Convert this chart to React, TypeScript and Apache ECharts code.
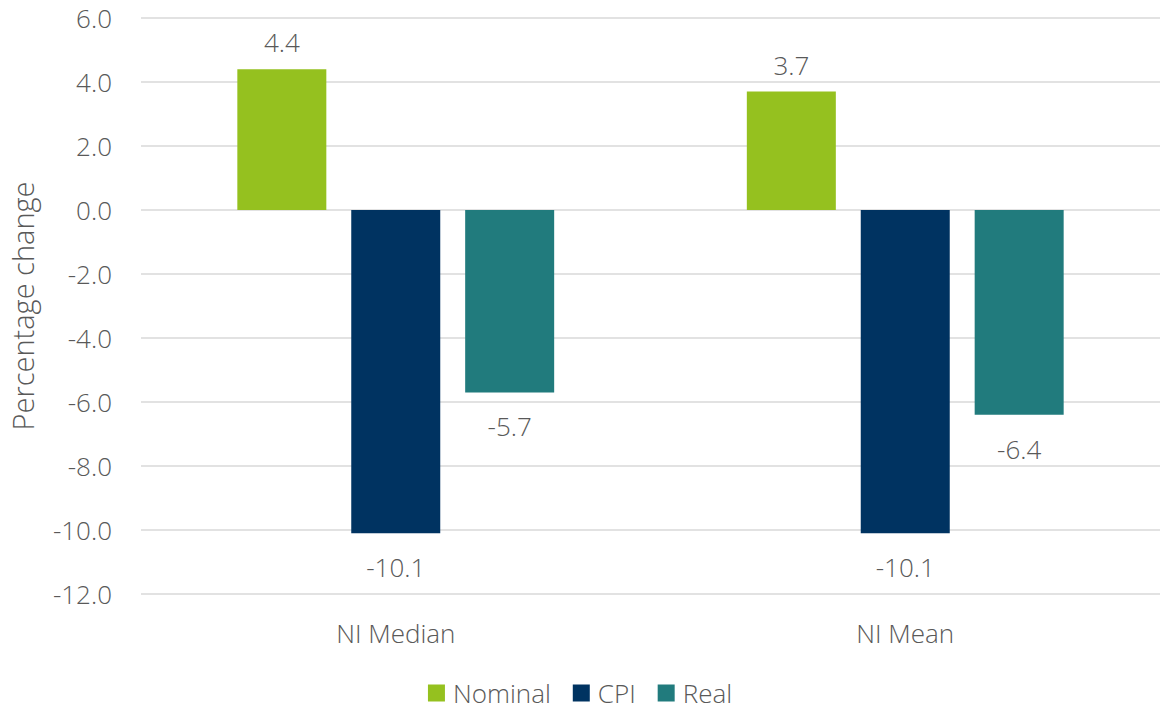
import React, { useEffect, useRef } from "react";
import * as echarts from "echarts";

const categories = ["NI Median", "NI Mean"];
const nominal = [4.4, 3.7];
const cpi = [-10.1, -10.1];
const real = [-5.7, -6.4];
const seriesNames = ["Nominal", "CPI", "Real"];
const colors = ["#95C11F", "#003361", "#217B7D"];

const FONT = "'Open Sans', 'Noto Sans', sans-serif";
const TEXT = "#595959";
const FS = 26;

function toItems(vals: number[]) {
  return vals.map((v) => ({
    value: v,
    label: v >= 0 ? { position: "top", distance: 14 } : { position: "bottom", distance: 21 },
  }));
}

export default function App() {
  const ref = useRef<HTMLDivElement>(null);
  useEffect(() => {
    if (!ref.current) return;
    const chart = echarts.init(ref.current, null, { renderer: "svg" });
    const seriesData = [nominal, cpi, real];
    chart.setOption({
      animation: false,
      textStyle: { fontFamily: FONT, fontWeight: 300 },
      grid: { left: 137, right: 0, top: 18, bottom: 117, containLabel: false },
      legend: {
        data: seriesNames,
        bottom: 0,
        left: "center",
        itemWidth: 17,
        itemHeight: 17,
        itemGap: 22,
        icon: "rect",
        textStyle: { fontSize: FS, color: TEXT, fontFamily: FONT, fontWeight: 300, padding: [0, 0, 0, 3] },
      },
      xAxis: {
        type: "category",
        data: categories,
        axisLine: { show: false },
        axisTick: { show: false },
        axisLabel: { fontSize: FS, color: TEXT, margin: 26, fontFamily: FONT, fontWeight: 300 },
      },
      yAxis: {
        type: "value",
        min: -12,
        max: 6,
        interval: 2,
        name: "Percentage change",
        nameLocation: "middle",
        nameGap: 104,
        nameRotate: 90,
        nameTextStyle: { fontSize: 29, color: TEXT, fontFamily: FONT, fontWeight: 300 },
        axisLine: { show: false },
        axisTick: { show: false },
        axisLabel: {
          fontSize: FS,
          color: TEXT,
          margin: 29,
          fontFamily: FONT,
          fontWeight: 300,
          formatter: (v: number) => v.toFixed(1),
        },
        splitLine: { lineStyle: { color: "#D9D9D9", width: 1.5 } },
      },
      series: seriesNames.map((name, i) => ({
        name,
        type: "bar",
        data: toItems(seriesData[i]),
        barWidth: 89,
        barGap: "28%",
        itemStyle: { color: colors[i] },
        label: {
          show: true,
          fontSize: FS,
          color: TEXT,
          fontFamily: FONT,
          fontWeight: 300,
          formatter: (p: any) => Number(p.value).toFixed(1),
        },
      })),
    });
    return () => chart.dispose();
  }, []);
  return (
    <div
      ref={ref}
      style={{ position: "absolute", left: 0, top: 0, width: 1160, height: 711, background: "#fff" }}
    />
  );
}
